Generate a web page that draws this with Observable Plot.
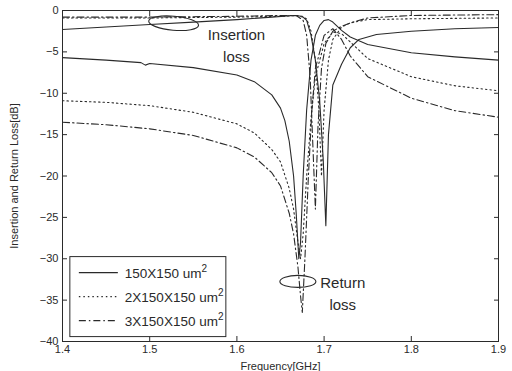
<!DOCTYPE html>
<html>
<head>
<meta charset="utf-8">
<script src="https://cdn.jsdelivr.net/npm/d3@7"></script>
<script src="https://cdn.jsdelivr.net/npm/@observablehq/plot@0.6"></script>
<style>
  body { margin: 0; background: #fff; }
  #chart { position: relative; width: 512px; height: 371px; }
  svg { font-family: Arial, "Liberation Sans", sans-serif; }
</style>
</head>
<body>
<div id="chart"></div>
<script>
// Three resonator sizes: insertion loss (S21) and return loss (S11), dB vs GHz
const sizes = ["150X150 um", "2X150X150 um", "3X150X150 um"];
const dashes = ["none", "1.5,3", "7,3,1.5,3"];

// 150X150 um^2
const il1F = [1.40,1.45,1.50,1.55,1.60,1.64,1.665,1.675,1.680,1.685,1.690,1.695,1.699,1.702,1.705,1.710,1.720,1.730,1.740,1.760,1.800,1.850,1.900];
const il1V = [-2.3,-2.0,-1.7,-1.4,-1.1,-0.8,-0.6,-0.7,-1.2,-3.0,-6.0,-11,-18,-26,-15,-9,-6.5,-4.5,-3.5,-2.9,-2.5,-2.2,-2.05];
const rl1F = [1.40,1.45,1.49,1.495,1.50,1.55,1.60,1.62,1.64,1.65,1.655,1.660,1.665,1.668,1.671,1.673,1.676,1.680,1.685,1.690,1.695,1.700,1.705,1.710,1.720,1.730,1.750,1.800,1.850,1.900];
const rl1V = [-5.7,-6.0,-6.3,-6.6,-6.4,-6.9,-7.8,-8.6,-10.2,-11.8,-13.3,-15.8,-20,-24.5,-30,-28,-20,-12,-6,-3,-1.8,-1.2,-1.1,-1.4,-2.4,-3.2,-4.1,-5.1,-5.6,-6.0];

// 2X150X150 um^2
const il2F = [1.40,1.50,1.60,1.65,1.670,1.680,1.685,1.690,1.694,1.697,1.700,1.705,1.710,1.720,1.730,1.750,1.800,1.900];
const il2V = [-0.9,-0.9,-0.8,-0.7,-0.6,-1.0,-2.5,-6,-12,-20,-12,-6,-3.5,-2,-1.5,-1.1,-1.0,-0.9];
const rl2F = [1.40,1.45,1.50,1.55,1.60,1.62,1.64,1.65,1.660,1.665,1.670,1.673,1.676,1.680,1.685,1.690,1.700,1.710,1.720,1.730,1.750,1.800,1.850,1.900];
const rl2V = [-10.9,-11.1,-11.5,-12.3,-13.7,-14.8,-16.8,-18.3,-21.5,-24,-28,-30,-27,-20,-13,-8,-4,-2.6,-2.8,-3.8,-5.8,-8.0,-9.1,-9.7];

// 3X150X150 um^2
const il3F = [1.40,1.50,1.60,1.65,1.668,1.676,1.680,1.684,1.687,1.690,1.693,1.697,1.702,1.710,1.720,1.730,1.750,1.800,1.900];
const il3V = [-0.8,-0.8,-0.7,-0.6,-0.6,-1.2,-3,-8,-16,-24,-14,-7,-4,-2.5,-1.9,-1.5,-0.9,-0.6,-0.5];
const rl3F = [1.40,1.45,1.50,1.55,1.60,1.62,1.64,1.65,1.660,1.665,1.670,1.673,1.675,1.678,1.682,1.686,1.690,1.700,1.710,1.720,1.730,1.750,1.800,1.850,1.900];
const rl3V = [-13.5,-13.8,-14.3,-15.1,-16.6,-17.7,-19.6,-21.2,-24.5,-27,-31,-34.5,-36.5,-30,-20,-12,-7,-3,-2.2,-3.5,-5.5,-8,-10.6,-12.1,-12.9];

const xTicks = [1.4, 1.5, 1.6, 1.7, 1.8, 1.9];
const yTicks = [0, -5, -10, -15, -20, -25, -30, -35, -40];

const series = [
  [il1F, il1V, 0], [rl1F, rl1V, 0],
  [il2F, il2V, 1], [rl2F, rl2V, 1],
  [il3F, il3V, 2], [rl3F, rl3V, 2]
];

const ink = "#2a2a2a";
const noLabel = () => "";
const lineMarks = series.map(([f, v, k]) =>
  Plot.line(f.map((x, i) => ({f: x, db: v[i]})), {
    x: "f", y: "db", stroke: ink, strokeWidth: 1.1,
    strokeDasharray: dashes[k] === "none" ? null : dashes[k]
  })
);

const plot = Plot.plot({
  width: 512,
  height: 371,
  marginLeft: 62,
  marginRight: 14,
  marginTop: 10,
  marginBottom: 30,
  style: {fontSize: "11px", color: ink, background: "#fff"},
  x: {domain: [1.4, 1.9]},
  y: {domain: [-40, 0]},
  marks: [
    ...lineMarks,
    Plot.frame({stroke: ink, strokeWidth: 1}),
    Plot.axisX({ticks: xTicks, tickSize: -5, tickPadding: 9, tickFormat: d3.format(".1f"),
                label: "Frequency[GHz]", labelAnchor: "center", labelOffset: 28, labelArrow: "none"}),
    Plot.axisX({anchor: "top", ticks: xTicks, tickSize: -5, tickFormat: noLabel, label: null}),
    Plot.axisY({ticks: yTicks, tickSize: -5, tickPadding: 9,
                label: "Insertion and Return Loss[dB]", labelAnchor: "center", labelOffset: 52, labelArrow: "none"}),
    Plot.axisY({anchor: "right", ticks: yTicks, tickSize: -5, tickFormat: noLabel, label: null})
  ]
});

document.getElementById("chart").appendChild(plot);

const sx = plot.scale("x"), sy = plot.scale("y");
const svg = d3.select(plot);
const g = svg.append("g").attr("fill", "none").attr("stroke", ink).attr("stroke-width", 1.1);

// Callout ellipses around the curve groups
const ecx = sx.apply(1.528), ecy = sy.apply(-1.6);
g.append("ellipse")
  .attr("cx", ecx).attr("cy", ecy)
  .attr("rx", 25).attr("ry", 7)
  .attr("transform", `rotate(5 ${ecx} ${ecy})`);
g.append("ellipse")
  .attr("cx", sx.apply(1.6705)).attr("cy", sy.apply(-32.8))
  .attr("rx", 18).attr("ry", 6);

const t = svg.append("g").attr("fill", ink).attr("font-size", 15).attr("text-anchor", "middle");
t.append("text").attr("x", sx.apply(1.6)).attr("y", sy.apply(-3.6)).text("Insertion");
t.append("text").attr("x", sx.apply(1.6)).attr("y", sy.apply(-6.3)).text("loss");
t.append("text").attr("x", sx.apply(1.722)).attr("y", sy.apply(-33.6)).text("Return");
t.append("text").attr("x", sx.apply(1.722)).attr("y", sy.apply(-36.3)).text("loss");

// Legend box
const lx = sx.apply(1.409), ly = sy.apply(-29.8), lw = 156, lh = 80;
const lg = svg.append("g").attr("text-anchor", "start");
lg.append("rect").attr("x", lx).attr("y", ly).attr("width", lw).attr("height", lh)
  .attr("fill", "#fff").attr("stroke", ink).attr("stroke-width", 1);
sizes.forEach((s, i) => {
  const yy = ly + 16 + i * 24;
  lg.append("line").attr("x1", lx + 9).attr("x2", lx + 48).attr("y1", yy).attr("y2", yy)
    .attr("stroke", ink).attr("stroke-width", 1.1)
    .attr("stroke-dasharray", dashes[i] === "none" ? null : dashes[i]);
  const tx = lg.append("text").attr("x", lx + 55).attr("y", yy + 5).attr("font-size", 13.5).attr("fill", ink);
  tx.append("tspan").text(s);
  tx.append("tspan").attr("dy", -6).attr("font-size", 10).text("2");
});
</script>
</body>
</html>
